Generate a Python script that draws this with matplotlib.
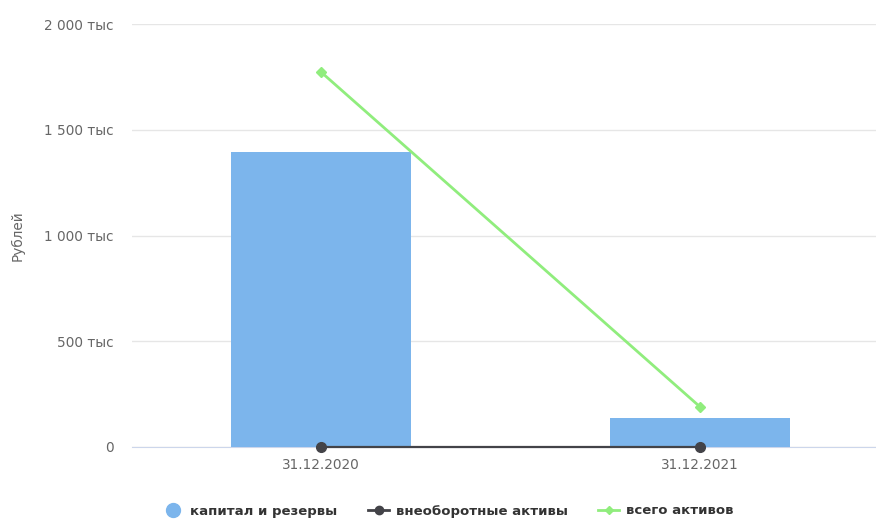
import matplotlib.pyplot as plt
from matplotlib.lines import Line2D

dates = ['31.12.2020', '31.12.2021']
kapital = [1395, 137]
vneob = [0, 0]
vsego = [1773, 190]
y_ticks = [0, 500, 1000, 1500, 2000]
y_labels = ['0', '500 тыс', '1 000 тыс', '1 500 тыс', '2 000 тыс']

plt.rcParams['font.family'] = ['DejaVu Sans']

fig = plt.figure(figsize=(8.76, 5.19), dpi=100)
ax = fig.add_axes([131.5 / 876, 72 / 519, 1 - 131.5 / 876, 423 / 519])

x = range(len(dates))
ax.bar(x, kapital, width=0.475, color='#7cb5ec', zorder=2)
ax.plot(x, vneob, color='#434348', lw=1.6, marker='o', ms=7, zorder=3, clip_on=False)
ax.plot(x, vsego, color='#90ed7d', lw=2, marker='D', ms=5, zorder=3)

ax.set_xlim(-0.5, -0.5 + (876 - 131.5) / 379)
ax.set_ylim(0, 2000)
ax.set_yticks(y_ticks)
ax.set_yticklabels(y_labels)
ax.set_xticks(list(x))
ax.set_xticklabels(dates)
ax.grid(axis='y', color='#e6e6e6', lw=1, zorder=0)
ax.tick_params(axis='both', length=0, labelsize=9.8, colors='#666666')
ax.tick_params(axis='y', pad=13)
ax.tick_params(axis='x', pad=8)
for s in ['top', 'right', 'left']:
    ax.spines[s].set_visible(False)
ax.spines['bottom'].set_color('#ccd6eb')
ax.spines['bottom'].set_zorder(1)
ax.set_ylabel('Рублей', fontsize=9.8, color='#666666')
ax.yaxis.set_label_coords((25 - 131.5) / 744.5, 0.5)

handles = [
    Line2D([], [], color='#7cb5ec', marker='o', ms=10, lw=0),
    Line2D([], [], color='#434348', marker='o', ms=6, lw=2),
    Line2D([], [], color='#90ed7d', marker='D', ms=4, lw=2),
]
names = ['капитал и резервы', 'внеоборотные активы', 'всего активов']
leg = fig.legend(handles, names, loc='center', bbox_to_anchor=(448 / 876, 8 / 519),
                 ncol=3, frameon=False, handlelength=1.6, columnspacing=2.3,
                 handletextpad=0.5, prop={'weight': 'bold', 'size': 9.5})
for t in leg.get_texts():
    t.set_color('#333333')

fig.savefig('out.png', dpi=100)
